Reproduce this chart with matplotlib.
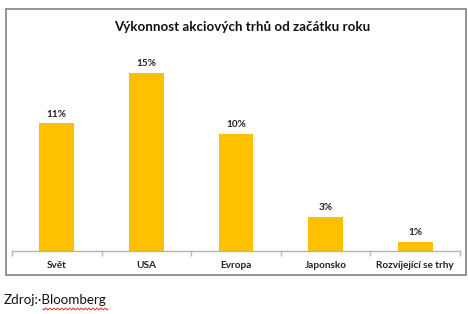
import matplotlib
matplotlib.use("Agg")
import matplotlib.pyplot as plt
from matplotlib.patches import Rectangle
import numpy as np

categories = ["Svět", "USA", "Evropa", "Japonsko", "Rozvíjející se trhy"]
values = [10.9, 15.2, 10.0, 2.9, 0.74]
labels = ["11%", "15%", "10%", "3%", "1%"]
title = "Výkonnost akciových trhů od začátku roku"
source = "Zdroj:·Bloomberg"

W, H = 468, 314
fig = plt.figure(figsize=(W / 100, H / 100), dpi=100)
fig.patch.set_facecolor("white")

FONT = "Lato"

# outer chart frame
fig.add_artist(Rectangle((6 / W, 1 - 275 / H), (466 - 6) / W, (275 - 9) / H,
                         transform=fig.transFigure, fill=False,
                         edgecolor="#8c8c8c", linewidth=1.3))

# axes placement in pixels
ax_left, ax_right = 12, 460
base_y = 251
ymax = 16.0
px_per_unit = 11.7
ax_top = base_y - ymax * px_per_unit
ax = fig.add_axes([ax_left / W, 1 - base_y / H, (ax_right - ax_left) / W,
                   (base_y - ax_top) / H])
ax.set_xlim(-0.5, len(categories) - 0.5)
ax.set_ylim(0, ymax)

x = np.arange(len(categories))
bars = ax.bar(x, values, width=0.39, color="#FFC000", zorder=2)
for xi, v, lab in zip(x, values, labels):
    ax.annotate(lab, (xi, v), xytext=(0, 3.5), textcoords="offset points",
                ha="center", va="bottom", fontsize=7.2, fontweight="bold",
                family=FONT, color="#222222")

for s in ["top", "right", "left"]:
    ax.spines[s].set_visible(False)
ax.spines["bottom"].set_color("#b5b5b5")
ax.spines["bottom"].set_linewidth(1.0)
ax.set_yticks([])
ax.set_xticks(x)
ax.set_xticklabels(categories, fontsize=7.2, fontweight="bold", family=FONT,
                   color="#222222")
ax.tick_params(axis="x", length=0, pad=7)
# boundary ticks
ax.set_xticks(np.arange(-0.5, len(categories)), minor=True)
ax.tick_params(axis="x", which="minor", length=3.5, color="#b5b5b5", width=1.0)
ax.patch.set_alpha(0)

fig.text(242 / W, 1 - 27 / H, title, ha="center", va="center",
         fontsize=9.6, fontweight="bold", family=FONT, color="#111111")

t = fig.text(4 / W, 1 - 300 / H, source, ha="left", va="center",
             fontsize=9.6, family=FONT, color="#111111")

# red wavy spell-check underline under "Bloomberg"
xs = np.linspace(43, 108, 70)
ys = 309 + 1.0 * np.sin((xs - 43) * 1.6)
fig.add_artist(plt.Line2D(xs / W, 1 - ys / H, transform=fig.transFigure,
                          color="#e03030", linewidth=0.7))

fig.savefig("out.png", dpi=100)
